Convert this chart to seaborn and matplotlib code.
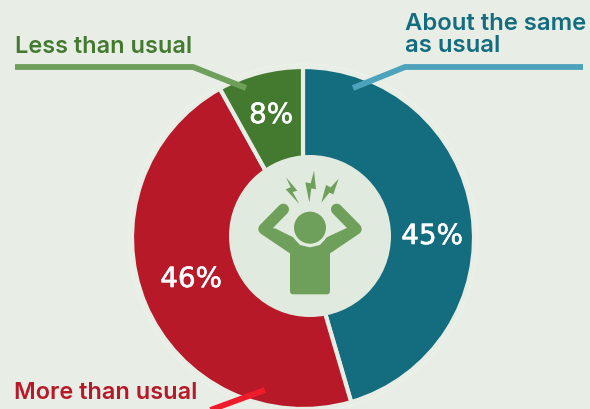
#!/usr/bin/env python3
# Donut chart: stress compared with usual, with a stressed-person icon in the middle.

import pandas as pd
import seaborn as sns
import matplotlib.pyplot as plt
import matplotlib.patheffects as pe
from matplotlib.patches import Circle, FancyBboxPatch, Polygon

CATEGORIES = ["About the same\nas usual", "More than usual", "Less than usual"]
VALUES     = [45, 46, 8]
VALUE_TEXT = ["45%", "46%", "8%"]
COLORS     = ["#136d7f", "#b71928", "#447a30"]

BG, HALO, DISC, ICON = "#e8eee6", "#ebf0e9", "#e1eade", "#6fa05b"
W, H = 590, 409

def py(y):
    # picture pixels run downward, the axes run upward
    return H - y

def zoomed(points):
    return [(220 + x / 3, py(150 + y / 3)) for x, y in points]

def leader(ax, xs, ys, color):
    df = pd.DataFrame({"x": xs, "y": [py(y) for y in ys]})
    sns.lineplot(data=df, x="x", y="y", sort=False, estimator=None, color=color,
                 linewidth=4.2, ax=ax, legend=False, zorder=6,
                 solid_joinstyle="miter", solid_capstyle="butt")

def draw_icon(ax):
    for pts in (
        [(198, 82), (232, 122), (218, 126), (238, 162), (197, 118), (212, 112)],
        [(282, 62), (288, 118), (274, 115), (268, 158), (256, 97), (272, 100)],
        [(356, 86), (340, 133), (328, 128), (304, 158), (318, 105), (332, 112)],
    ):
        ax.add_patch(Polygon(zoomed(pts), color=ICON, lw=0, zorder=5))

    body = [(132, 237), (165, 235), (220, 262), (240, 285), (270, 292), (300, 285),
            (320, 262), (378, 235), (408, 237), (330, 310), (330, 400), (210, 400), (210, 310)]
    ax.add_patch(Polygon(zoomed(body), color=ICON, lw=0, zorder=5))
    (x0, y0), = zoomed([(210, 433)])
    ax.add_patch(FancyBboxPatch((x0, y0), 40, 30, boxstyle="round,pad=0,rounding_size=3",
                                fc=ICON, ec="none", lw=0, zorder=5))
    for arm in ([(190, 178), (132, 237), (215, 293)], [(350, 178), (408, 237), (325, 293)]):
        pts = zoomed(arm)
        ax.plot([p[0] for p in pts], [p[1] for p in pts], color=ICON, lw=8.2,
                solid_capstyle="round", solid_joinstyle="round", zorder=5)

    hx, hy = zoomed([(270, 233)])[0]
    ax.add_patch(Circle((hx, hy), 19, color=DISC, lw=0, zorder=5.5))
    ax.add_patch(Circle((hx, hy), 16, color=ICON, lw=0, zorder=5.6))

def main():
    sns.set_theme(style="white")
    plt.rcParams["font.family"] = ["DejaVu Sans"]

    fig, ax = plt.subplots(figsize=(W / 100, H / 100), dpi=100)
    fig.patch.set_facecolor(BG)
    ax.set_position([0, 0, 1, 1])

    cx, cy, r = 303, py(238), 171
    ax.add_patch(Circle((cx, cy), r + 4, color=HALO, lw=0, zorder=0))
    ax.pie(VALUES, colors=COLORS, startangle=90, counterclock=False,
           center=(cx, cy), radius=r,
           wedgeprops={"edgecolor": BG, "linewidth": 3})
    ax.add_patch(Circle((310, py(236)), 81, color=DISC, lw=0, zorder=4))
    ax.set_xlim(0, W)
    ax.set_ylim(0, H)
    ax.set_aspect("auto")
    ax.axis("off")

    draw_icon(ax)

    leader(ax, [15, 193, 246], [67, 67, 88], ICON)
    leader(ax, [583, 405, 353], [67, 67, 88], "#4ea3bc")
    leader(ax, [265, 205], [390, 412], "#ee1c2b")

    label_font = {"family": ["Inter", "DejaVu Sans"], "fontweight": "semibold"}
    ax.text(15, py(53), CATEGORIES[2], color=COLORS[2], va="baseline", fontsize=16.9, **label_font)
    ax.text(14, py(399), CATEGORIES[1], color=COLORS[1], va="baseline", fontsize=16.9, **label_font)
    ax.text(405, py(52), CATEGORIES[0], color=COLORS[0], va="baseline", fontsize=17.2,
            linespacing=0.98, **label_font)

    for (x, y), t in zip([(432, 236), (191, 279), (271, 115)], VALUE_TEXT):
        txt = ax.text(x, py(y), t, color="white", ha="center", va="center", fontsize=20, zorder=7)
        txt.set_path_effects([pe.withStroke(linewidth=0.4, foreground="white")])

    fig.savefig("out.png", dpi=100, facecolor=BG)

if __name__ == "__main__":
    main()
